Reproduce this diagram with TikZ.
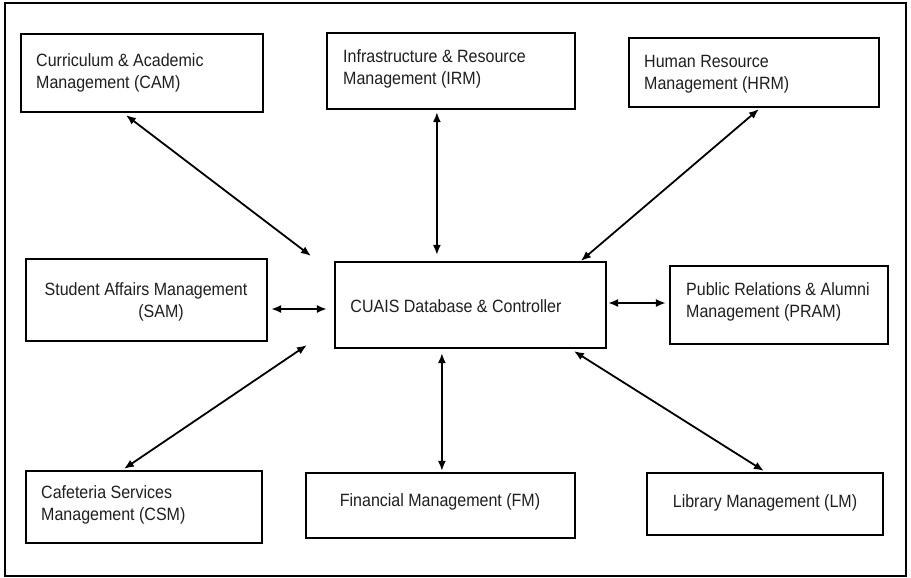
\documentclass[tikz,border=0pt]{standalone}
\usepackage{fontspec}
\setmainfont{Liberation Sans}[FakeStretch=0.9]
\usetikzlibrary{arrows.meta,fit,calc}
\begin{document}
\begin{tikzpicture}[x=1pt,y=-1pt,
  box/.style={draw=black,line width=2.2pt,inner sep=0pt,fill=white},
  lbl/.style={inner sep=0pt,font=\fontsize{17.8}{21.5}\selectfont,text=black!88},
  link/.style={line width=1.8pt,{Latex[length=10pt,width=8pt]}-{Latex[length=10pt,width=8pt]}}]
\useasboundingbox (0,0) rectangle (911,578);
\fill[white] (0,0) rectangle (911,578);
\node[box,fill=none,fit={(5,3) (906,576)}] (frame) {};
% boxes
\node[box,fit={(21,34) (263,112)}] (cam) {};
\node[box,fit={(327,33) (575,109)}] (irm) {};
\node[box,fit={(629,38) (879,107)}] (hrm) {};
\node[box,fit={(26,259) (267,341)}] (sam) {};
\node[box,fit={(335,262) (606,348)}] (ctr) {};
\node[box,fit={(670,266) (888,344)}] (pram) {};
\node[box,fit={(26,471) (262,543)}] (csm) {};
\node[box,fit={(306,473) (575,538)}] (fm) {};
\node[box,fit={(647,473) (883,535)}] (lm) {};
% labels
\node[lbl,align=left,anchor=west] (tcam) at (36,73) {Curriculum \& Academic\\Management (CAM)};
\node[lbl,align=left,anchor=west] (tirm) at (343,69) {Infrastructure \& Resource\\Management (IRM)};
\node[lbl,align=left,anchor=west] (thrm) at (644,74) {Human Resource\\Management (HRM)};
\node[lbl,align=center] (tsam) at (146,302) {Student Affairs Management\\\hspace*{30pt}(SAM)};
\node[lbl] (tctr) at (456,306) {CUAIS Database \& Controller};
\node[lbl,align=left,anchor=west] (tpram) at (686,302) {Public Relations \& Alumni\\Management (PRAM)};
\node[lbl,align=left,anchor=west] (tcsm) at (41,505) {Cafeteria Services\\Management (CSM)};
\node[lbl] (tfm) at (440,502) {Financial Management (FM)};
\node[lbl] (tlm) at (765,503) {Library Management (LM)};
% connector ends
\coordinate (camE) at ([xshift=106pt,yshift=-2pt]cam.south west);
\coordinate (ctrCAM) at ([xshift=-23pt,yshift=5pt]ctr.north west);
\coordinate (irmE) at ([xshift=111pt,yshift=-2pt]irm.south west);
\coordinate (ctrIRM) at ([xshift=103pt,yshift=6pt]ctr.north west);
\coordinate (hrmE) at ([xshift=131pt,yshift=-1pt]hrm.south west);
\coordinate (ctrHRM) at ([xshift=247pt]ctr.north west);
\coordinate (samE) at ([xshift=3pt]sam.east |- 0,309);
\coordinate (ctrSAM) at ([xshift=-7pt]ctr.west |- 0,309);
\coordinate (ctrPRAM) at ([xshift=1pt]ctr.east |- 0,303);
\coordinate (pramE) at ([xshift=-3pt]pram.west |- 0,303);
\coordinate (ctrCSM) at ([xshift=-27pt,yshift=4pt]ctr.south west);
\coordinate (csmE) at ([xshift=99pt,yshift=1pt]csm.north west);
\coordinate (ctrFM) at ([xshift=108pt,yshift=-4pt]ctr.south west);
\coordinate (fmE) at ([xshift=137pt,yshift=1pt]fm.north west);
\coordinate (ctrLM) at ([xshift=240pt,yshift=-2pt]ctr.south west);
\coordinate (lmE) at ([xshift=118pt,yshift=1pt]lm.north west);
% connectors
\draw[link] (camE) -- (ctrCAM);
\draw[link] (irmE) -- (ctrIRM);
\draw[link] (hrmE) -- (ctrHRM);
\draw[link] (samE) -- (ctrSAM);
\draw[link] (ctrPRAM) -- (pramE);
\draw[link] (ctrCSM) -- (csmE);
\draw[link] (ctrFM) -- (fmE);
\draw[link] (ctrLM) -- (lmE);
\end{tikzpicture}
\end{document}
